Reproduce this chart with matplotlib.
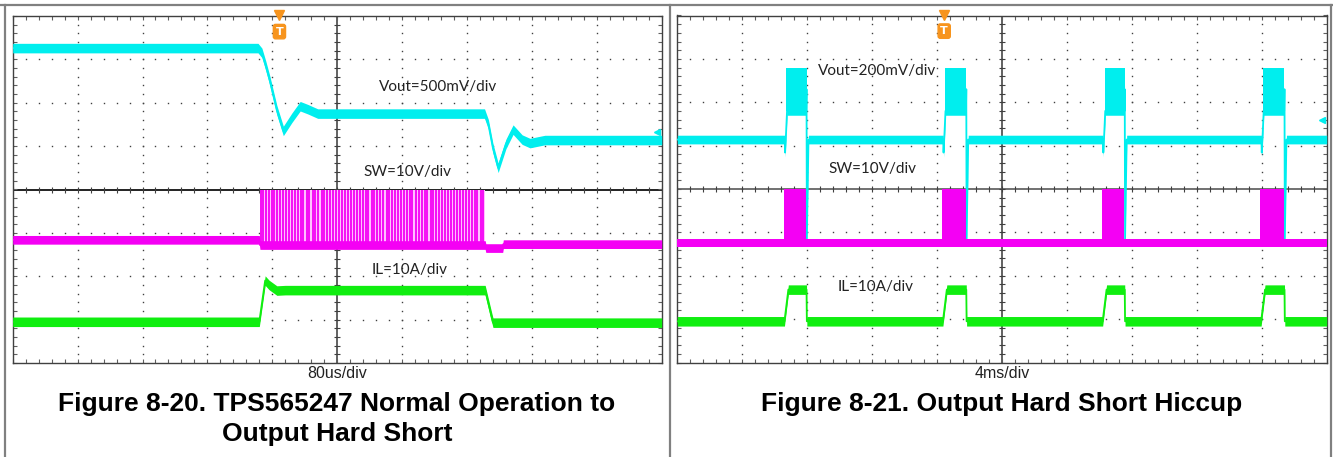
import numpy as np
import matplotlib.pyplot as plt
from matplotlib.lines import Line2D

# ---- data (x in divisions 0..10, y in divisions -4..4)
# Figure 8-20 : normal operation to output hard short (80us/div)
left_vout_t = [0.0, 3.78, 3.84, 3.90, 3.96, 4.07, 4.17, 4.30, 4.43, 4.55, 4.70, 7.27, 7.33, 7.40, 7.48,
               7.60, 7.71, 7.85, 7.97, 8.20, 10.0]
left_vout_v = [3.26, 3.26, 3.15, 2.85, 2.52, 1.83, 1.35, 1.65, 1.92, 1.85, 1.75, 1.75, 1.50, 0.95, 0.50,
               1.05, 1.38, 1.15, 1.07, 1.14, 1.14]

left_sw_t = [0.0, 3.80, 3.81, 7.28, 7.29, 7.55, 7.56, 10.0]
left_sw_v = [-1.16, -1.16, -1.28, -1.28, -1.35, -1.35, -1.26, -1.26]
left_sw_pulses = [3.82, 3.86, 3.90, 3.95, 3.99, 4.03, 4.08, 4.12, 4.17, 4.21, 4.26, 4.30, 4.35, 4.39,
                  4.44, 4.48, 4.53, 4.57, 4.62, 4.66, 4.71, 4.76, 4.80, 4.85, 4.89, 4.94, 4.98, 5.03,
                  5.07, 5.12, 5.16, 5.21, 5.26, 5.30, 5.35, 5.39, 5.44, 5.48, 5.53, 5.57, 5.62, 5.66,
                  5.71, 5.76, 5.80, 5.85, 5.89, 5.94, 5.98, 6.03, 6.07, 6.12, 6.16, 6.21, 6.26, 6.30,
                  6.35, 6.39, 6.44, 6.48, 6.53, 6.57, 6.62, 6.66, 6.71, 6.76, 6.80, 6.85, 6.89, 6.94,
                  6.98, 7.03, 7.07, 7.12, 7.16, 7.21, 7.25]
left_sw_top = 0.0

left_il_t = [0.0, 3.80, 3.89, 3.95, 4.07, 4.20, 7.28, 7.40, 10.0]
left_il_v = [-3.05, -3.05, -2.10, -2.20, -2.33, -2.32, -2.32, -3.07, -3.07]

# Figure 8-21 : hiccup (4ms/div)
hic_start = [1.66, 4.10, 6.56, 9.00]
hic_end = [1.99, 4.45, 6.89, 9.35]
right_vout_base = 1.14
right_vout_dip = 0.84
right_vout_low = 1.80
right_vout_high = 2.78
right_vout_fall = -1.15
right_sw_base = -1.24
right_sw_top = 0.0
right_il_base = -3.05
right_il_top = -2.32

CYAN = "#00EEEE"
MAGENTA = "#F400F4"
GREEN = "#10EE10"
ORANGE = "#F7941D"


def draw_screen(ax, hline_color):
    ax.set_xlim(0, 10)
    ax.set_ylim(-4, 4)
    ax.set_xticks(np.arange(0, 10.01, 0.2))
    ax.set_yticks(np.arange(-4, 4.01, 0.2))
    ax.tick_params(direction="in", length=3, width=0.8, color="#606060",
                   top=True, right=True, labelbottom=False, labelleft=False)
    for s in ax.spines.values():
        s.set_color("#404040")
        s.set_linewidth(1.0)
    minor_x = np.arange(0, 10.01, 0.2)
    minor_y = np.arange(-4, 4.01, 0.2)
    for gx in [1, 2, 3, 4, 6, 7, 8, 9]:
        ax.plot(np.full(minor_y.size, gx), minor_y, ls="none", marker="s", ms=1.0,
                color="#404040", mew=0)
    for gy in [-3, -2, -1, 1, 2, 3]:
        ax.plot(minor_x, np.full(minor_x.size, gy), ls="none", marker="s", ms=1.0,
                color="#404040", mew=0)
    ax.axhline(0, color=hline_color, lw=1.3, zorder=1)
    ax.axvline(5, color="#555555", lw=1.3, zorder=1)
    ax.plot(minor_x, np.zeros(minor_x.size), ls="none", marker="|", ms=5, mew=0.8, color="#404040")
    ax.plot(np.full(minor_y.size, 5), minor_y, ls="none", marker="_", ms=5, mew=0.8, color="#404040")


def trace(ax, t, v, color, hw):
    t = np.asarray(t)
    v = np.asarray(v)
    ax.fill_between(t, v - hw, v + hw, color=color, lw=0, zorder=3)
    ax.plot(t, v, color=color, lw=1.3, zorder=3)


def trigger(ax, x):
    ax.plot([x], [4.02], marker="v", ms=7, color=ORANGE, clip_on=False, zorder=6)
    ax.text(x, 3.64, "T", ha="center", va="center", fontsize=8, color="white", weight="bold",
            bbox=dict(boxstyle="round,pad=0.2", fc=ORANGE, ec=ORANGE), zorder=6)


fig = plt.figure(figsize=(13.33, 4.57), dpi=100)
axl = fig.add_axes([12.7 / 1333, 94 / 457, 649 / 1333, 347 / 457])
axr = fig.add_axes([677.3 / 1333, 94.5 / 457, 649.4 / 1333, 347 / 457])
draw_screen(axl, "#111111")
draw_screen(axr, "#666666")

label_font = dict(family=["Lato", "DejaVu Sans"], fontsize=11, color="#222222", ha="center",
                  va="center", zorder=7)

# ---- left panel
trace(axl, left_vout_t, left_vout_v, CYAN, 0.11)
axl.fill_between([left_sw_pulses[0] - 0.01, left_sw_pulses[-1] + 0.02], left_sw_v[2], left_sw_top,
                 color="#FFC0FF", lw=0, zorder=2)
axl.vlines(left_sw_pulses, left_sw_v[2], left_sw_top, color=MAGENTA, lw=1.3, zorder=3)
trace(axl, left_sw_t, left_sw_v, MAGENTA, 0.1)
trace(axl, left_il_t, left_il_v, GREEN, 0.11)
axl.plot([9.93], [1.33], marker="<", ms=4, color=CYAN, clip_on=False, zorder=5)
trigger(axl, 4.11)
axl.text(6.55, 2.37, "Vout=500mV/div", **label_font)
axl.text(6.09, 0.41, "SW=10V/div", **label_font)
axl.text(6.11, -1.85, "IL=10A/div", **label_font)

# ---- right panel, traces built from the hiccup start/end times
vt, vv = [0.0], [right_vout_base]
it, iv = [0.0], [right_il_base]
for s, e in zip(hic_start, hic_end):
    vt += [s - 0.005, s, s + 0.015, s + 0.03, e - 0.005, e, e + 0.005, e + 0.03]
    vv += [right_vout_base, right_vout_dip, 1.3, right_vout_low, right_vout_low, 2.3,
           right_vout_fall, right_vout_base]
    it += [s - 0.01, s + 0.05, e, e + 0.005]
    iv += [right_il_base, right_il_top, right_il_top, right_il_base]
vt.append(10.0); vv.append(right_vout_base)
it.append(10.0); iv.append(right_il_base)

trace(axr, vt, vv, CYAN, 0.1)
for s, e in zip(hic_start, hic_end):
    axr.fill_between([s + 0.02, e], right_vout_low, right_vout_high, color=CYAN, lw=0, zorder=3)
trace(axr, [0.0, 10.0], [right_sw_base, right_sw_base], MAGENTA, 0.09)
for s, e in zip(hic_start, hic_end):
    axr.fill_between([s - 0.02, e - 0.01], right_sw_base, right_sw_top, color=MAGENTA, lw=0, zorder=3)
trace(axr, it, iv, GREEN, 0.11)
axr.plot([9.93], [1.59], marker="<", ms=4, color=CYAN, clip_on=False, zorder=5)
trigger(axr, 4.11)
axr.text(3.07, 2.73, "Vout=200mV/div", **label_font)
axr.text(3.01, 0.47, "SW=10V/div", **label_font)
axr.text(3.06, -2.25, "IL=10A/div", **label_font)

# ---- captions
scale_font = dict(family=["Liberation Sans Narrow", "Liberation Sans"], fontsize=11.5,
                  color="#222222", ha="center", va="center")
fig.text(337 / 1333, 1 - 373 / 457, "80us/div", **scale_font)
fig.text(1002 / 1333, 1 - 373 / 457, "4ms/div", **scale_font)
title_font = dict(family="Liberation Sans", fontsize=19, weight="bold", color="black",
                  ha="center", va="center")
fig.text(337 / 1333, 1 - 404 / 457, "Figure 8-20. TPS565247 Normal Operation to", **title_font)
fig.text(337 / 1333, 1 - 434 / 457, "Output Hard Short", **title_font)
fig.text(1002 / 1333, 1 - 404 / 457, "Figure 8-21. Output Hard Short Hiccup", **title_font)

# ---- table frame
W, H = 1333, 457
for x0, y0, x1, y1 in [(0, 5, W, 5), (5, 5, 5, H), (670, 5, 670, H), (1331, 5, 1331, H)]:
    fig.add_artist(Line2D([x0 / W, x1 / W], [1 - y0 / H, 1 - y1 / H], color="#808080", lw=1.6))

fig.savefig("out.png", dpi=100)
